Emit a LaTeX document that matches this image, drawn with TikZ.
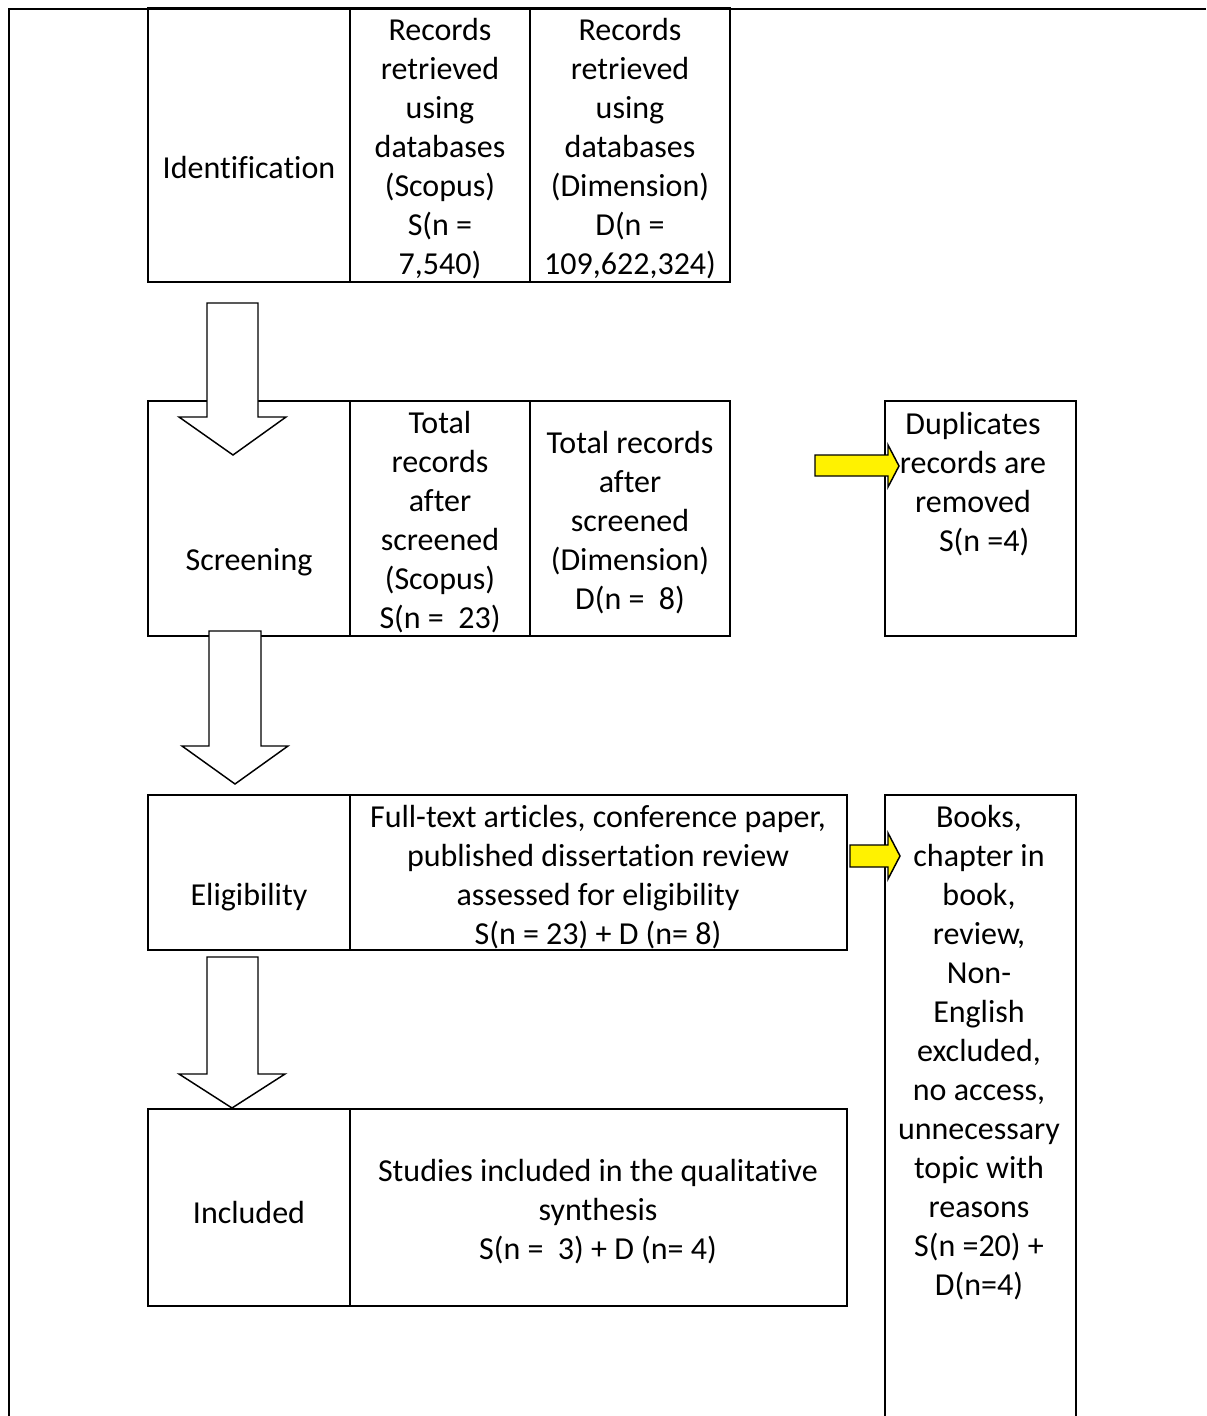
\documentclass[tikz,border=0pt]{standalone}
\usepackage{fontspec}
\setmainfont{Carlito}[RawFeature={-liga;-clig;-dlig;-hlig}]
\begin{document}
\begin{tikzpicture}[x=0.75pt,y=-0.75pt,
  cell/.style={draw=black,line width=1.5pt},
  txt/.style={align=center,inner sep=0pt,font=\fontsize{24}{29.25}\selectfont},
  blockarrow/.style={draw=black,fill=white,line width=1.1pt,line join=miter},
  yelarrow/.style={draw=black,fill=yellow,line width=1.1pt,line join=miter}]
\useasboundingbox (0,0) rectangle (1206,1416);
% outer frame
\draw[line width=1.5pt] (1206,9) -- (9,9) -- (9,1416);
% Identification row
\draw[cell] (148,8) rectangle (730,282);
\draw[cell] (350,8) -- (350,282) (530,8) -- (530,282);
% Screening row
\draw[cell] (148,401) rectangle (730,636);
\draw[cell] (350,401) -- (350,636) (530,401) -- (530,636);
% Eligibility row
\draw[cell] (148,795) rectangle (847,950);
\draw[cell] (350,795) -- (350,950);
% Included row
\draw[cell] (148,1109) rectangle (847,1306);
\draw[cell] (350,1109) -- (350,1306);
% side boxes
\draw[cell] (885,401) rectangle (1076,636);
\draw[cell] (885,1416) -- (885,795) -- (1076,795) -- (1076,1416);

% texts
\node[txt] (id1) at (249,168) {Identification};
\node[txt] (id2) at (440,149) {Records\\retrieved\\using\\databases\\(Scopus)\\S(n =\\7,540)};
\node[txt] (id3) at (630,149) {Records\\retrieved\\using\\databases\\(Dimension)\\D(n =\\109,622,324)};
\node[txt] (sc1) at (249,562) {Screening};
\node[txt] (sc2) at (440,522) {Total\\records\\after\\screened\\(Scopus)\\S(n =\ \ 23)};
\node[txt] (sc3) at (630,523) {Total records\\after\\screened\\(Dimension)\\D(n =\ \ 8)};
\node[txt] (dup) at (973,484) {Duplicates\\records are\\removed\\\hspace*{0.7em}S(n =4)};
\node[txt] (el1) at (249,897) {Eligibility};
\node[txt] (el2) at (598,877) {Full-text articles, conference paper,\\published dissertation review\\assessed for eligibility\\S(n = 23) + D (n= 8)};
\node[txt] (inc1) at (249,1212) {Included};
\node[txt] (inc2) at (598,1212) {Studies included in the qualitative\\synthesis\\S(n =\ \ 3) + D (n= 4)};
\node[txt] (exc) at (979,1053) {Books,\\chapter in\\book,\\review,\\Non-\\English\\excluded,\\no access,\\unnecessary\\topic with\\reasons\\S(n =20) +\\D(n=4)};

% block arrows (down)
\draw[blockarrow] (207,303) -- (258,303) -- (258,417) -- (286,417) -- (233,455) -- (179,417) -- (207,417) -- cycle;
\draw[blockarrow] (209,631) -- (261,631) -- (261,746) -- (288,746) -- (235,784) -- (182,746) -- (209,746) -- cycle;
\draw[blockarrow] (207,957) -- (258,957) -- (258,1074) -- (285,1074) -- (232,1108) -- (179,1074) -- (207,1074) -- cycle;

% yellow arrows
\draw[yelarrow] (815,455) -- (888,455) -- (888,445) -- (899,466) -- (888,487) -- (888,476) -- (815,476) -- cycle;
\draw[yelarrow] (850,845) -- (888,845) -- (888,833) -- (900,856) -- (888,879) -- (888,867) -- (850,867) -- cycle;
\end{tikzpicture}
\end{document}
